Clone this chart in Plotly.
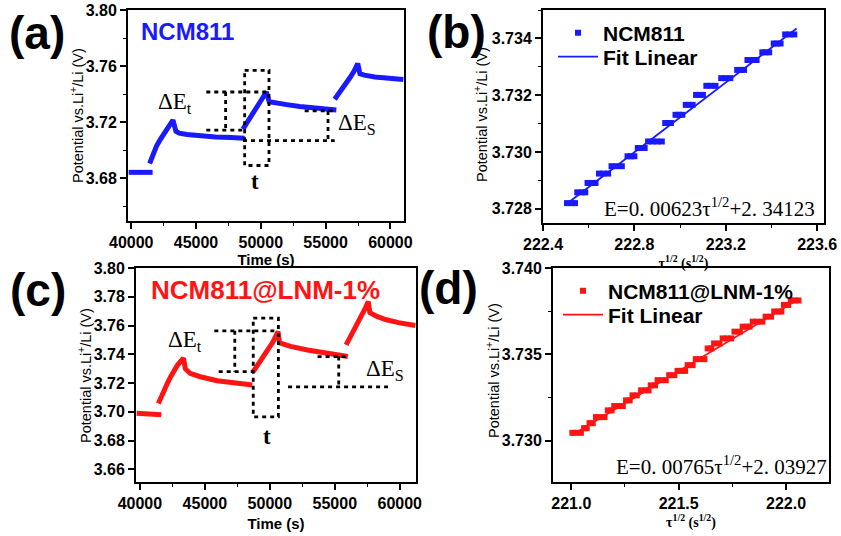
import plotly.graph_objects as go

# ---------------- Panel (a): NCM811 GITT ----------------
a_seg0_t = [39800, 40500, 41200, 41650]
a_seg0_v = [3.6842, 3.6842, 3.6842, 3.6842]
a_seg1_t = [41420, 41700, 41950, 42200, 42450, 42700, 42950, 43220, 43450, 43700, 44300, 45300, 46500, 47700, 48750]
a_seg1_v = [3.6905, 3.6975, 3.7030, 3.7070, 3.7105, 3.7145, 3.7180, 3.7215, 3.7135, 3.7122, 3.7112, 3.7102, 3.7095, 3.7090, 3.7085]
a_seg2_t = [48620, 48900, 49200, 49500, 49800, 50100, 50425, 50650, 51000, 52000, 53000, 54500, 55830]
a_seg2_v = [3.7150, 3.7190, 3.7235, 3.7275, 3.7320, 3.7365, 3.7415, 3.7345, 3.7338, 3.7325, 3.7312, 3.7298, 3.7287]
a_seg3_t = [55700, 56000, 56300, 56600, 56900, 57200, 57480, 57650, 58000, 58800, 59800, 61000]
a_seg3_v = [3.7363, 3.7400, 3.7440, 3.7480, 3.7520, 3.7565, 3.7618, 3.7545, 3.7535, 3.7522, 3.7512, 3.7505]

# guide (dotted) lines in (a): each is [x0, x1], [y0, y1]
a_guides = [
    ([45792, 50425], [3.7415, 3.7415]),
    ([45792, 48880], [3.7143, 3.7143]),
    ([47284, 47284], [3.7415, 3.7143]),
    ([48752, 50630, 50630, 48752, 48752], [3.7570, 3.7570, 3.6891, 3.6891, 3.7570]),
    ([48623, 55700], [3.7068, 3.7068]),
    ([53385, 55830], [3.7280, 3.7280]),
    ([55186, 55186], [3.7280, 3.7068]),
]

# ---------------- Panel (c): NCM811@LNM-1% GITT ----------------
c_seg0_t = [39750, 40500, 41000, 41650]
c_seg0_v = [3.6990, 3.6988, 3.6985, 3.6980]
c_seg1_t = [41420, 41650, 41900, 42150, 42400, 42650, 42900, 43150, 43355, 43500, 43870, 44650, 45940, 47230, 48650]
c_seg1_v = [3.7058, 3.7110, 3.7160, 3.7205, 3.7250, 3.7290, 3.7325, 3.7352, 3.7372, 3.7300, 3.7267, 3.7244, 3.7216, 3.7202, 3.7186]
c_seg2_t = [48723, 49000, 49300, 49600, 49900, 50200, 50632, 50750, 51600, 52900, 54450, 56000]
c_seg2_v = [3.7279, 3.7320, 3.7360, 3.7400, 3.7440, 3.7480, 3.7558, 3.7480, 3.7455, 3.7430, 3.7405, 3.7384]
c_seg3_t = [55871, 56150, 56450, 56750, 57050, 57350, 57574, 57700, 58200, 58900, 59900, 61200]
c_seg3_v = [3.7465, 3.7510, 3.7560, 3.7610, 3.7665, 3.7720, 3.7767, 3.7690, 3.7665, 3.7642, 3.7620, 3.7600]

c_guides = [
    ([45729, 50658], [3.7563, 3.7563]),
    ([46065, 48774], [3.7279, 3.7279]),
    ([47303, 47303], [3.7563, 3.7279]),
    ([48723, 50658, 50658, 48723, 48723], [3.7651, 3.7651, 3.6965, 3.6965, 3.7651]),
    ([51406, 59097], [3.7174, 3.7174]),
    ([53677, 56000], [3.7384, 3.7384]),
    ([55303, 55303], [3.7384, 3.7174]),
]

# ---------------- Panel (b): E vs tau^1/2, NCM811 ----------------
b_tau = [222.505, 222.525, 222.540,
         222.550, 222.570, 222.585,
         222.595, 222.615, 222.630,
         222.645, 222.665, 222.685,
         222.700, 222.720, 222.745,
         222.770, 222.785, 222.800,
         222.815, 222.830, 222.845,
         222.860, 222.880, 222.900, 222.920,
         222.935, 222.950, 222.960,
         222.980, 222.995, 223.010,
         223.025, 223.040, 223.055,
         223.070, 223.085, 223.100,
         223.115, 223.135, 223.155,
         223.180, 223.200, 223.220,
         223.250, 223.265, 223.280,
         223.295, 223.315, 223.335,
         223.360, 223.375, 223.390,
         223.410, 223.425, 223.440,
         223.460, 223.480, 223.500]
b_pot = [3.72820, 3.72820, 3.72820,
         3.72858, 3.72858, 3.72858,
         3.72891, 3.72891, 3.72891,
         3.72924, 3.72924, 3.72924,
         3.72950, 3.72950, 3.72950,
         3.72985, 3.72985, 3.72985,
         3.73014, 3.73014, 3.73014,
         3.73037, 3.73037, 3.73037, 3.73037,
         3.73102, 3.73102, 3.73102,
         3.73131, 3.73131, 3.73131,
         3.73166, 3.73166, 3.73166,
         3.73201, 3.73201, 3.73201,
         3.73233, 3.73233, 3.73233,
         3.73260, 3.73260, 3.73260,
         3.73289, 3.73289, 3.73289,
         3.73324, 3.73324, 3.73324,
         3.73351, 3.73351, 3.73351,
         3.73382, 3.73382, 3.73382,
         3.73414, 3.73414, 3.73414]
b_fit_tau = [222.50, 223.51]
b_fit_pot = [3.72815, 3.73435]

# ---------------- Panel (d): E vs tau^1/2, NCM811@LNM-1% ----------------
d_tau = [221.005, 221.025, 221.045,
         221.060, 221.072,
         221.085, 221.100,
         221.115, 221.135, 221.155,
         221.170, 221.188,
         221.200, 221.220, 221.240,
         221.255, 221.272,
         221.285, 221.305,
         221.325, 221.345, 221.360,
         221.370, 221.390,
         221.402, 221.420, 221.440,
         221.456, 221.480,
         221.495, 221.515, 221.530,
         221.542, 221.565,
         221.580, 221.600, 221.620,
         221.635, 221.652,
         221.665, 221.690,
         221.705, 221.725, 221.745,
         221.760, 221.785,
         221.798, 221.815, 221.830,
         221.845, 221.865, 221.890,
         221.905, 221.930,
         221.945, 221.965, 221.978,
         221.990, 222.010,
         222.022, 222.040, 222.058]
d_pot = [3.73045, 3.73045, 3.73045,
         3.73072, 3.73072,
         3.73101, 3.73101,
         3.73136, 3.73136, 3.73136,
         3.73175, 3.73175,
         3.73200, 3.73200, 3.73200,
         3.73233, 3.73233,
         3.73262, 3.73262,
         3.73291, 3.73291, 3.73291,
         3.73320, 3.73320,
         3.73350, 3.73350, 3.73350,
         3.73379, 3.73379,
         3.73404, 3.73404, 3.73404,
         3.73437, 3.73437,
         3.73472, 3.73472, 3.73472,
         3.73534, 3.73534,
         3.73563, 3.73563,
         3.73592, 3.73592, 3.73592,
         3.73631, 3.73631,
         3.73660, 3.73660, 3.73660,
         3.73689, 3.73689, 3.73689,
         3.73718, 3.73718,
         3.73748, 3.73748, 3.73748,
         3.73786, 3.73786,
         3.73812, 3.73812, 3.73812]
d_fit_tau = [221.00, 222.06]
d_fit_pot = [3.73030, 3.73820]

BLUE = "#1a1aff"
RED = "#ff1414"
SANS = "Liberation Sans, Arial, sans-serif"
SERIF = "Liberation Serif, Times New Roman, serif"


def join_segments(segs):
    xs, ys = [], []
    for sx, sy in segs:
        xs += list(sx) + [None]
        ys += list(sy) + [None]
    return xs, ys


fig = go.Figure()

# (a) curve
ax_, ay_ = join_segments([(a_seg0_t, a_seg0_v), (a_seg1_t, a_seg1_v), (a_seg2_t, a_seg2_v), (a_seg3_t, a_seg3_v)])
fig.add_trace(go.Scatter(x=ax_, y=ay_, mode="lines", line=dict(color=BLUE, width=5),
                         showlegend=False, xaxis="x", yaxis="y"))
gx, gy = join_segments(a_guides)
fig.add_trace(go.Scatter(x=gx, y=gy, mode="lines", line=dict(color="black", width=2.8, dash="4px,4px"),
                         showlegend=False, xaxis="x", yaxis="y"))

# (c) curve
cx_, cy_ = join_segments([(c_seg0_t, c_seg0_v), (c_seg1_t, c_seg1_v), (c_seg2_t, c_seg2_v), (c_seg3_t, c_seg3_v)])
fig.add_trace(go.Scatter(x=cx_, y=cy_, mode="lines", line=dict(color=RED, width=5),
                         showlegend=False, xaxis="x3", yaxis="y3"))
gx, gy = join_segments(c_guides)
fig.add_trace(go.Scatter(x=gx, y=gy, mode="lines", line=dict(color="black", width=2.8, dash="4px,4px"),
                         showlegend=False, xaxis="x3", yaxis="y3"))

# (b)
fig.add_trace(go.Scatter(x=b_tau, y=b_pot, mode="markers", name="NCM811",
                         marker=dict(symbol="square", size=6, color=BLUE),
                         xaxis="x2", yaxis="y2", legend="legend"))
fig.add_trace(go.Scatter(x=b_fit_tau, y=b_fit_pot, mode="lines", name="Fit Linear",
                         line=dict(color=BLUE, width=1.8), xaxis="x2", yaxis="y2", legend="legend3"))

# (d)
fig.add_trace(go.Scatter(x=d_tau, y=d_pot, mode="markers", name="NCM811@LNM-1%",
                         marker=dict(symbol="square", size=6, color=RED),
                         xaxis="x4", yaxis="y4", legend="legend2"))
fig.add_trace(go.Scatter(x=d_fit_tau, y=d_fit_pot, mode="lines", name="Fit Linear",
                         line=dict(color=RED, width=1.8), xaxis="x4", yaxis="y4", legend="legend4"))

W, H = 841, 536


def px_dom(x0, x1):
    return [x0 / W, x1 / W]


def py_dom(y_top, y_bot):
    return [1 - y_bot / H, 1 - y_top / H]


tickfont = dict(family=SANS, size=16, color="black", weight="bold")


def xaxis(domain, anchor, rng, dtick, tick0, minor_dtick, fmt, title, title_font, standoff):
    return dict(domain=domain, anchor=anchor, range=rng, dtick=dtick, tick0=tick0, tickformat=fmt,
                automargin=False,
                showgrid=False, zeroline=False, showline=True, linecolor="black", linewidth=2,
                mirror=True, ticks="outside", ticklen=6, tickwidth=1.5, tickcolor="black",
                minor=dict(ticks="outside", ticklen=3, tickwidth=1.2, tickcolor="black", dtick=minor_dtick),
                tickfont=tickfont,
                title=dict(text=title, font=title_font, standoff=standoff))


def yaxis(domain, anchor, rng, dtick, tick0, minor_dtick, fmt):
    d = dict(domain=domain, anchor=anchor, range=rng, dtick=dtick, tick0=tick0, tickformat=fmt,
             automargin=False,
             showgrid=False, zeroline=False, showline=True, linecolor="black", linewidth=2,
             mirror=True, ticks="outside", ticklen=6, tickwidth=1.5, tickcolor="black",
             tickfont=tickfont)
    if minor_dtick:
        d["minor"] = dict(ticks="outside", ticklen=3, tickwidth=1.2, tickcolor="black", dtick=minor_dtick)
    return d


time_font = dict(family=SANS, size=15, color="black", weight="bold")
tau_font = dict(family=SERIF, size=14, color="black", weight="bold")
tau_title = "τ<sup>1/2</sup> (s<sup>1/2</sup>)"


def legend_at(x, y):
    return dict(x=x / W, y=1 - y / H, xanchor="left", yanchor="middle", bgcolor="rgba(0,0,0,0)",
                font=dict(family=SANS, size=21, color="black", weight="bold"), itemwidth=40)


layout = dict(
    template="none",
    width=W, height=H, margin=dict(l=0, r=0, t=0, b=0, autoexpand=False),
    paper_bgcolor="white", plot_bgcolor="white",
    xaxis=xaxis(px_dom(128, 404), "y", [39750, 61050], 5000, 40000, 2500, "d", "Time (s)", time_font, 4),
    yaxis=yaxis(py_dom(10, 221), "x", [3.6495, 3.80], 0.04, 3.68, 0.02, ".2f"),
    xaxis2=xaxis(px_dom(543, 824), "y2", [222.4, 223.63], 0.4, 222.4, 0.2, ".1f", tau_title, tau_font, 5),
    yaxis2=yaxis(py_dom(10, 223), "x2", [3.7275, 3.7350], 0.002, 3.728, 0.001, ".3f"),
    xaxis3=xaxis(px_dom(136, 416), "y3", [39700, 61250], 5000, 40000, 2500, "d", "Time (s)", time_font, 7),
    yaxis3=yaxis(py_dom(268, 482), "x3", [3.6512, 3.80], 0.02, 3.66, None, ".2f"),
    xaxis4=xaxis(px_dom(553, 829), "y4", [220.915, 222.2], 0.5, 221.0, 0.25, ".1f", tau_title, tau_font, 5),
    yaxis4=yaxis(py_dom(268, 482), "x4", [3.7276, 3.7400], 0.005, 3.730, 0.0025, ".3f"),
    legend=legend_at(553, 33),
    legend3=legend_at(553, 57),
    legend2=legend_at(558, 291),
    legend4=legend_at(558, 315),
)
fig.update_layout(**layout)

ann = []
# y-axis titles (rotated)
for x, y, size in [(77, 116, 14.5), (481, 115, 14.5), (85, 376, 14.5), (493, 370, 14.5)]:
    ann.append(dict(text="Potential vs.Li<sup>+</sup>/Li (V)", x=x / W, y=1 - y / H, xref="paper", yref="paper",
                    showarrow=False, textangle=-90, xanchor="center", yanchor="middle",
                    font=dict(family=SANS, size=size, color="black")))
# panel labels
for txt, x, y in [("(a)", 37, 33), ("(b)", 456, 32), ("(c)", 38, 290), ("(d)", 448, 288)]:
    ann.append(dict(text=txt, x=x / W, y=1 - y / H, xref="paper", yref="paper", showarrow=False,
                    xanchor="center", yanchor="middle",
                    font=dict(family=SANS, size=46, color="black", weight="bold")))
# sample names
ann.append(dict(text="NCM811", x=187 / W, y=1 - 32 / H, xref="paper", yref="paper", showarrow=False,
                xanchor="center", yanchor="middle", font=dict(family=SANS, size=24, color=BLUE, weight="bold")))
ann.append(dict(text="NCM811@LNM-1%", x=265 / W, y=1 - 290 / H, xref="paper", yref="paper", showarrow=False,
                xanchor="center", yanchor="middle", font=dict(family=SANS, size=26, color=RED, weight="bold")))
# schematic labels
serif_big = dict(family=SERIF, size=23, color="black")
ann += [
    dict(text="ΔE<sub>t</sub>", x=43400, y=3.7335, xref="x", yref="y", showarrow=False, font=serif_big),
    dict(text="ΔE<sub>S</sub>", x=57400, y=3.7190, xref="x", yref="y", showarrow=False, font=serif_big),
    dict(text="<b>t</b>", x=49550, y=3.6780, xref="x", yref="y", showarrow=False, font=serif_big),
    dict(text="ΔE<sub>t</sub>", x=43480, y=3.7490, xref="x3", yref="y3", showarrow=False, font=serif_big),
    dict(text="ΔE<sub>S</sub>", x=58850, y=3.7290, xref="x3", yref="y3", showarrow=False, font=serif_big),
    dict(text="<b>t</b>", x=49800, y=3.6830, xref="x3", yref="y3", showarrow=False, font=serif_big),
    dict(text="E=0. 00623τ<sup>1/2</sup>+2. 34123", x=223.13, y=3.72805, xref="x2", yref="y2",
         showarrow=False, font=dict(family=SERIF, size=21, color="black")),
    dict(text="E=0. 00765τ<sup>1/2</sup>+2. 03927", x=221.70, y=3.72855, xref="x4", yref="y4",
         showarrow=False, font=dict(family=SERIF, size=21, color="black")),
]
fig.update_layout(annotations=ann)

fig.write_html("out.html")
